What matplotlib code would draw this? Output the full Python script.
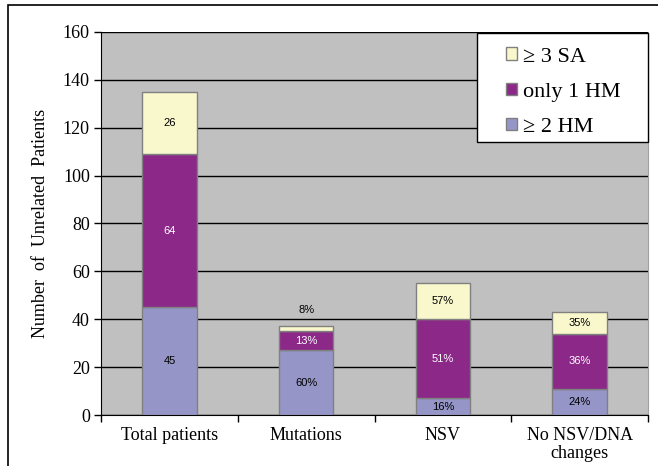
import matplotlib
matplotlib.use("Agg")
import matplotlib.pyplot as plt
from matplotlib.patches import Rectangle, Patch
import numpy as np

categories = ["Total patients", "Mutations", "NSV", "No NSV/DNA\nchanges"]
hm2 = [45, 27, 7, 11]
hm1 = [64, 8, 33, 23]
sa3 = [26, 2, 15, 9]
labels_hm2 = ["45", "60%", "16%", "24%"]
labels_hm1 = ["64", "13%", "51%", "36%"]
labels_sa3 = ["26", "8%", "57%", "35%"]
series_names = ["\u2265 3 SA", "only 1 HM", "\u2265 2 HM"]
yticks = [0, 20, 40, 60, 80, 100, 120, 140, 160]

c_hm2 = "#9595C8"
c_hm1 = "#8B2888"
c_sa3 = "#F9F8CC"
edge = "#808080"

fig = plt.figure(figsize=(6.58, 4.66), dpi=100)
W, H = 658, 466
ax = fig.add_axes([101 / W, 1 - 415 / H, (648 - 101) / W, (415 - 32) / H])
ax.set_facecolor("#C0C0C0")

x = np.arange(len(categories))
bw = 0.4
hm2 = np.array(hm2); hm1 = np.array(hm1); sa3 = np.array(sa3)
ax.bar(x, hm2, bw, color=c_hm2, edgecolor=edge, linewidth=1, zorder=3)
ax.bar(x, hm1, bw, bottom=hm2, color=c_hm1, edgecolor=edge, linewidth=1, zorder=3)
ax.bar(x, sa3, bw, bottom=hm2 + hm1, color=c_sa3, edgecolor=edge, linewidth=1, zorder=3)

lab_font = dict(family="Liberation Sans", fontsize=8, ha="center", va="center", zorder=4)
for i in range(len(categories)):
    ax.text(x[i], hm2[i] / 2, labels_hm2[i], color="black", **lab_font)
    ax.text(x[i], hm2[i] + hm1[i] / 2, labels_hm1[i], color="white", **lab_font)
    top = hm2[i] + hm1[i]
    if sa3[i] < 5:
        ax.text(x[i], top + sa3[i] + 7, labels_sa3[i], color="black", **lab_font)
    else:
        ax.text(x[i], top + sa3[i] / 2, labels_sa3[i], color="black", **lab_font)

ax.set_xlim(-0.5, len(categories) - 0.5)
ax.set_ylim(0, 160)
ax.set_yticks(yticks)
ax.yaxis.grid(True, color="black", linewidth=1, zorder=1)
ax.set_axisbelow(True)
ax.set_xticks(x)
ax.set_xticklabels(categories, family="Liberation Serif", fontsize=13, linespacing=1.0)
ax.set_xticks(np.arange(-0.5, len(categories) + 0.5, 1), minor=True)
ax.tick_params(axis="x", which="major", length=0, pad=9)
ax.tick_params(axis="x", which="minor", length=5, width=1, direction="out")
ax.tick_params(axis="y", length=5, width=1, direction="out", pad=3)
for lab in ax.get_yticklabels():
    lab.set_family("Liberation Serif")
    lab.set_fontsize(13)
ax.set_ylabel("Number  of  Unrelated  Patients", family="Liberation Serif", fontsize=13, labelpad=10)

ax.spines["top"].set_visible(False)
ax.spines["right"].set_color("#A0A0A0")
ax.spines["left"].set_color("black")
ax.spines["bottom"].set_color("black")

# legend box
ax.add_patch(Rectangle((0.687, 0.713), 0.313, 0.284, transform=ax.transAxes,
                       facecolor="white", edgecolor="black", linewidth=1,
                       zorder=5, clip_on=False))
handles = [Patch(facecolor=c_sa3, edgecolor=edge), Patch(facecolor=c_hm1, edgecolor=edge),
           Patch(facecolor=c_hm2, edgecolor=edge)]
leg = ax.legend(handles, series_names, loc="upper left", bbox_to_anchor=(0.740, 0.960),
                prop=dict(family="Liberation Serif", size=16), frameon=False,
                borderaxespad=0.0, borderpad=0.0, handlelength=0.5,
                handleheight=0.5, handletextpad=0.27, labelspacing=0.72)
leg.set_zorder(6)

fig.patches.append(Rectangle((8 / W, -0.1), 1.2, 1.1 - 5 / H, transform=fig.transFigure,
                             fill=False, edgecolor="black", linewidth=1.2))

fig.savefig("out.png", dpi=100)
